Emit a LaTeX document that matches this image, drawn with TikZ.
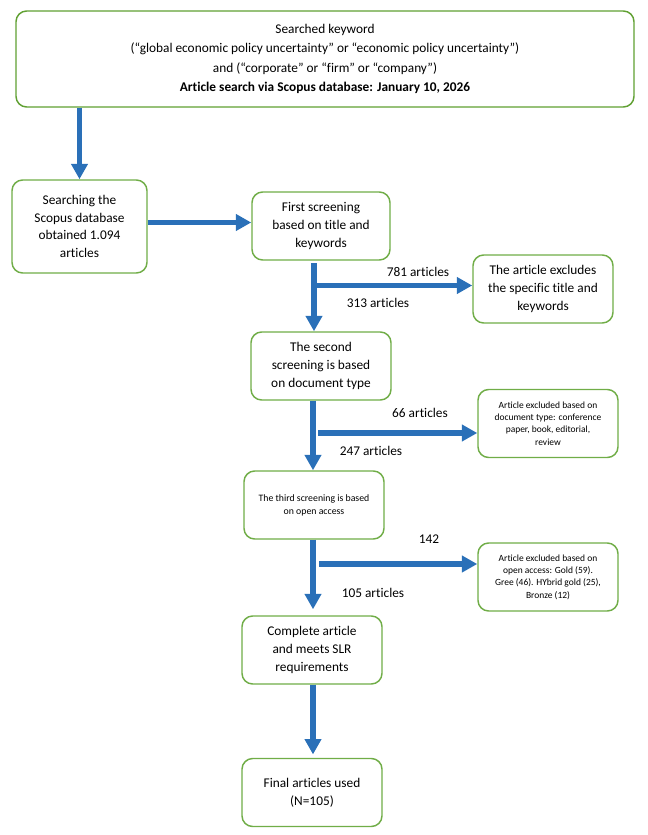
\documentclass[tikz,border=0pt]{standalone}
\usepackage{fontspec}
\setmainfont{Carlito}[Ligatures={NoCommon}]
\usetikzlibrary{arrows.meta}
\definecolor{boxgreen}{RGB}{112,173,71}
\definecolor{topgreen}{RGB}{96,160,50}
\definecolor{arrblue}{RGB}{42,112,184}
\begin{document}
\begin{tikzpicture}[x=0.75pt,y=-0.75pt,
  box/.style={draw=boxgreen, line width=1.1pt, rounded corners=8pt, align=center, inner sep=0pt, fill=white},
  sz/.style 2 args={minimum width=#1*0.75pt, minimum height=#2*0.75pt},
  normal/.style={font=\fontsize{10}{13.3}\selectfont},
  small/.style={font=\fontsize{7.1}{9.2}\selectfont},
  arr/.style={draw=arrblue, line width=4.1pt, -{Triangle[length=11.5pt,width=12pt]}},
  lbl/.style={font=\fontsize{10}{13}\selectfont, inner sep=0pt}
]
\useasboundingbox (0,0) rectangle (648,835);

% boxes
\node[box, draw=topgreen, sz={618}{96}, font=\fontsize{10}{14.6}\selectfont] (top) at (325,59)
  {Searched keyword\\(“global economic policy uncertainty” or “economic policy uncertainty”)\\and (“corporate” or “firm” or “company”)\\\textbf{Article search via Scopus database: January 10, 2026}};
\node[box, normal, sz={135}{93}] (left) at (79.5,226.5) {Searching the\\Scopus database\\obtained 1.094\\articles};
\node[box, normal, sz={138}{68}] (first) at (321,226) {First screening\\based on title and\\keywords};
\node[box, normal, sz={140}{68}] (ex1) at (543,289) {The article excludes\\the specific title and\\keywords};
\node[box, normal, sz={140}{68}] (second) at (321,366) {The second\\screening is based\\on document type};
\node[box, small, sz={140}{68}] (ex2) at (548,423.5) {Article excluded based on\\document type: conference\\paper, book, editorial,\\review};
\node[box, font=\fontsize{7.35}{9.75}\selectfont, sz={140}{68}] (third) at (314,505) {The third screening is based\\on open access};
\node[box, small, sz={140}{68}] (ex3) at (548,577) {Article excluded based on\\open access: Gold (59).\\Gree (46). HYbrid gold (25),\\Bronze (12)};
\node[box, normal, sz={140}{68}] (complete) at (312,650) {Complete article\\and meets SLR\\requirements};
\node[box, normal, sz={140}{68}] (final) at (312,792.5) {Final articles used\\(N=105)};

% helper coordinates
\coordinate (h1) at (0,222.5);
\coordinate (v1) at (314,0);
\coordinate (b1) at (0,285.5);
\coordinate (v2) at (313,0);
\coordinate (s2) at (318,433);
\coordinate (s3) at (319,564);

% connectors
\draw[arr] (top.south -| left.north) -- (left.north);
\draw[arr] (left.east |- h1) -- (first.west |- h1);
\draw[arr] ([yshift=-2pt]first.south -| v1) -- (second.north -| v1);
\draw[arr] (v1 |- b1) -- (ex1.west |- b1);
\draw[arr] (second.south -| v2) -- (third.north -| v2);
\draw[arr] (s2) -- (ex2.west |- s2);
\draw[arr, shorten >=4.5pt] (third.south -| v2) -- (complete.north -| v2);
\draw[arr] (s3) -- (ex3.west |- s3);
\draw[arr, shorten >=2.5pt] (complete.south -| v2) -- (final.north -| v2);

% labels
\node[lbl] (l1) at (418,272) {781 articles};
\node[lbl] (l2) at (378,303) {313 articles};
\node[lbl] (l3) at (420,413) {66 articles};
\node[lbl] (l4) at (371,451) {247 articles};
\node[lbl] (l5) at (429,539) {142};
\node[lbl] (l6) at (373,593) {105 articles};
\end{tikzpicture}
\end{document}
